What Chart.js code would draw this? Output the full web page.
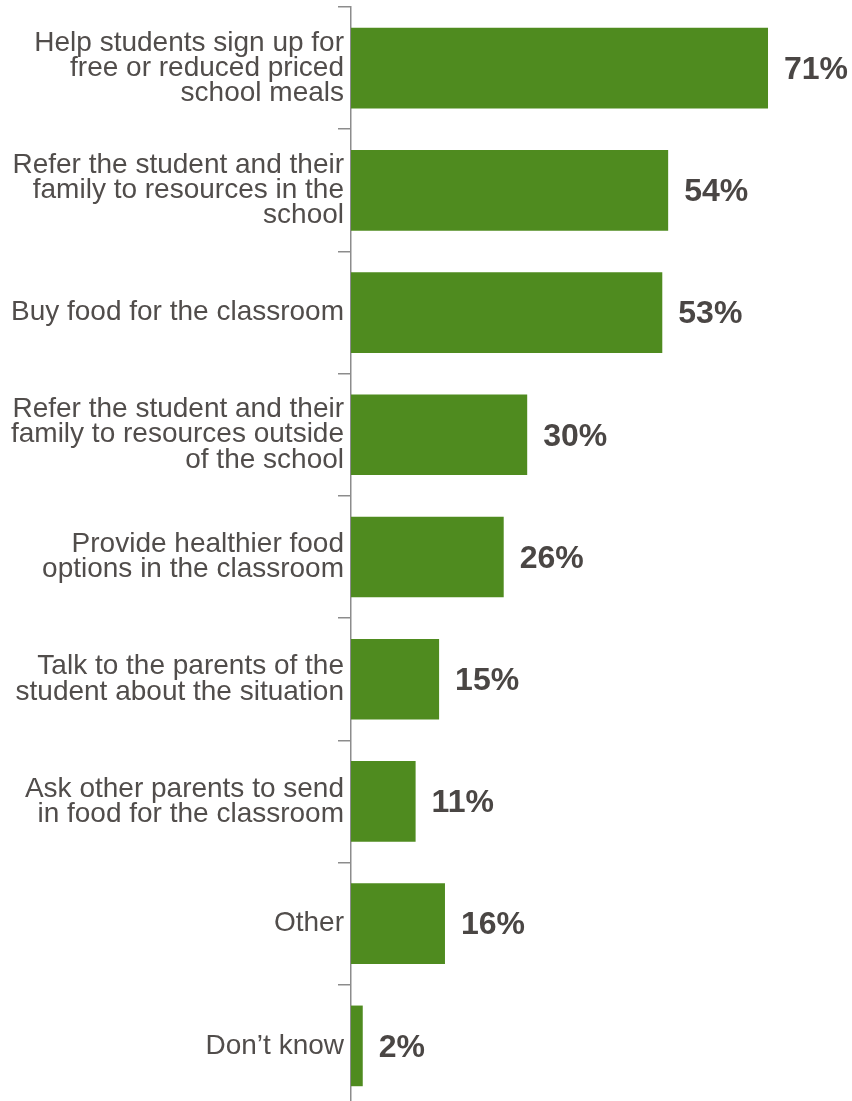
<!DOCTYPE html>
<html>
<head>
  <title>Actions taken by teachers</title>
  <script src="https://cdn.jsdelivr.net/npm/chart.js"></script>
  <style>
    body {
      margin: 0;
      padding: 0;
      background: #ffffff;
      overflow: hidden;
    }
    .chart-container {
      position: relative;
      width: 852px;
      height: 1110px;
    }
  </style>
</head>
<body>
  <div class="chart-container">
    <canvas id="actionsChart"></canvas>
  </div>

  <script>
    // Answer options (wrapped as on the axis) and share of respondents in %
    const actionLabels = [
      ['Help students sign up for', 'free or reduced priced', 'school meals'],
      ['Refer the student and their', 'family to resources in the', 'school'],
      'Buy food for the classroom',
      ['Refer the student and their', 'family to resources outside', 'of the school'],
      ['Provide healthier food', 'options in the classroom'],
      ['Talk to the parents of the', 'student about the situation'],
      ['Ask other parents to send', 'in food for the classroom'],
      'Other',
      'Don\u2019t know'
    ];
    const actionShares = [71, 54, 53, 30, 26, 15, 11, 16, 2];

    const barGreen = '#4f8b1f';
    const labelGray = '#514d4b';
    const valueGray = '#4a4644';

    // Writes the percentage just past the end of each bar
    const valueLabels = {
      id: 'valueLabels',
      afterDatasetsDraw(chart) {
        const ctx = chart.ctx;
        const xScale = chart.scales.x;
        const yScale = chart.scales.y;
        ctx.save();
        ctx.font = 'bold 32px "Liberation Sans", Arial, sans-serif';
        ctx.fillStyle = valueGray;
        ctx.textAlign = 'left';
        ctx.textBaseline = 'middle';
        actionShares.forEach((v, i) => {
          const x = xScale.getPixelForValue(v) + 16;
          const y = yScale.getPixelForValue(i) + 2;
          ctx.fillText(v + '%', x, y);
        });
        ctx.restore();
      }
    };

    new Chart(document.getElementById('actionsChart'), {
      type: 'bar',
      data: {
        labels: actionLabels,
        datasets: [{
          data: actionShares,
          backgroundColor: barGreen,
          borderWidth: 0,
          categoryPercentage: 1,
          barPercentage: 0.66
        }]
      },
      plugins: [valueLabels],
      options: {
        indexAxis: 'y',
        responsive: true,
        maintainAspectRatio: false,
        animation: false,
        layout: {
          padding: { top: 7, bottom: 3, left: 0, right: 0 }
        },
        plugins: {
          legend: { display: false },
          tooltip: { enabled: false }
        },
        scales: {
          x: {
            display: false,
            min: 0,
            max: 85.3
          },
          y: {
            afterFit(scale) {
              // fixed axis position; the tall wrapped labels shouldn't shrink the plot
              scale.width = 351;
              scale.paddingTop = 0;
              scale.paddingBottom = 0;
            },
            border: {
              display: true,
              color: '#8c8c8c',
              width: 1.5
            },
            grid: {
              display: true,
              drawOnChartArea: false,
              drawTicks: true,
              tickLength: 13,
              offset: true,
              color: '#8c8c8c',
              lineWidth: 1.5
            },
            ticks: {
              padding: -6,
              color: labelGray,
              font: {
                family: '"Liberation Sans", Arial, sans-serif',
                size: 28,
                lineHeight: 0.9
              }
            }
          }
        }
      }
    });
  </script>
</body>
</html>
